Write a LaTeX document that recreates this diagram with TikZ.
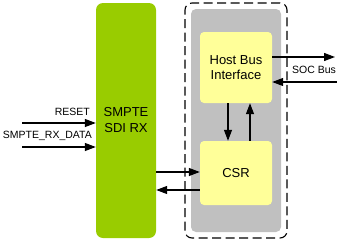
\documentclass[tikz,border=0pt]{standalone}
\usepackage{fontspec}
\setmainfont{Liberation Sans}
\usetikzlibrary{arrows.meta}
\definecolor{sgreen}{HTML}{99CC00}
\definecolor{sgray}{HTML}{C0C0C0}
\definecolor{syellow}{HTML}{FFFF99}
\begin{document}
\begin{tikzpicture}[x=1pt,y=-1pt,
  arr/.style={line width=1.2pt,-{Triangle[length=11pt,width=8pt]}},
  lbl/.style={font=\fontsize{10.5}{12}\selectfont,inner sep=0pt},
  blk/.style={font=\fontsize{13}{15.5}\selectfont,align=center,inner sep=0pt}]
\useasboundingbox (0,0) rectangle (337,241);
% green block
\node[blk,fill=sgreen,rounded corners=7pt,minimum width=60pt,minimum height=235pt] (rx) at (126,120.5) {};
\node[blk] (rxt) at (126,120) {SMPTE\\SDI RX};
% dashed outer
\node[draw,line width=1.1pt,dash pattern=on 9pt off 4.5pt,rounded corners=7pt,minimum width=102pt,minimum height=235pt,inner sep=0pt] (outer) at (236,120.5) {};
% gray
\node[fill=sgray,rounded corners=5pt,minimum width=90pt,minimum height=223pt,inner sep=0pt] (gray) at (236,120.5) {};
% yellow blocks
\node[blk,fill=syellow,rounded corners=4pt,minimum width=72pt,minimum height=71pt] (hbi) at (236,67.5) {Host Bus\\Interface};
\node[blk,fill=syellow,rounded corners=4pt,minimum width=72pt,minimum height=64pt] (csr) at (236,173) {CSR};
% inputs
\coordinate (in1) at (22,123);
\coordinate (in2) at (22,147);
\draw[arr] (in1) -- (in1 -| rx.west);
\draw[arr] (in2) -- (in2 -| rx.west);
\node[lbl,anchor=base east] (lreset) at (90,115) {RESET};
\node[lbl,anchor=base east] (ldata) at (92,138) {SMPTE\_RX\_DATA};
% RX <-> CSR
\coordinate (c1) at (156,172);
\coordinate (c2) at (156,190);
\draw[arr] (c1 -| rx.east) -- (c1 -| csr.west);
\draw[arr] (c2 -| csr.west) -- (c2 -| rx.east);
% HBI <-> CSR
\coordinate (v1) at (228,120);
\coordinate (v2) at (250,120);
\draw[arr] (v1 |- hbi.south) -- (v1 |- csr.north);
\draw[arr] (v2 |- csr.north) -- (v2 |- hbi.south);
% SOC bus
\coordinate (socO) at (335,57);
\coordinate (socI) at (337,82);
\draw[arr] (socO -| hbi.east) -- (socO);
\draw[arr] (socI) -- (socI -| hbi.east);
\node[lbl,anchor=base west] (soc) at (292,73) {SOC Bus};
\end{tikzpicture}
\end{document}
